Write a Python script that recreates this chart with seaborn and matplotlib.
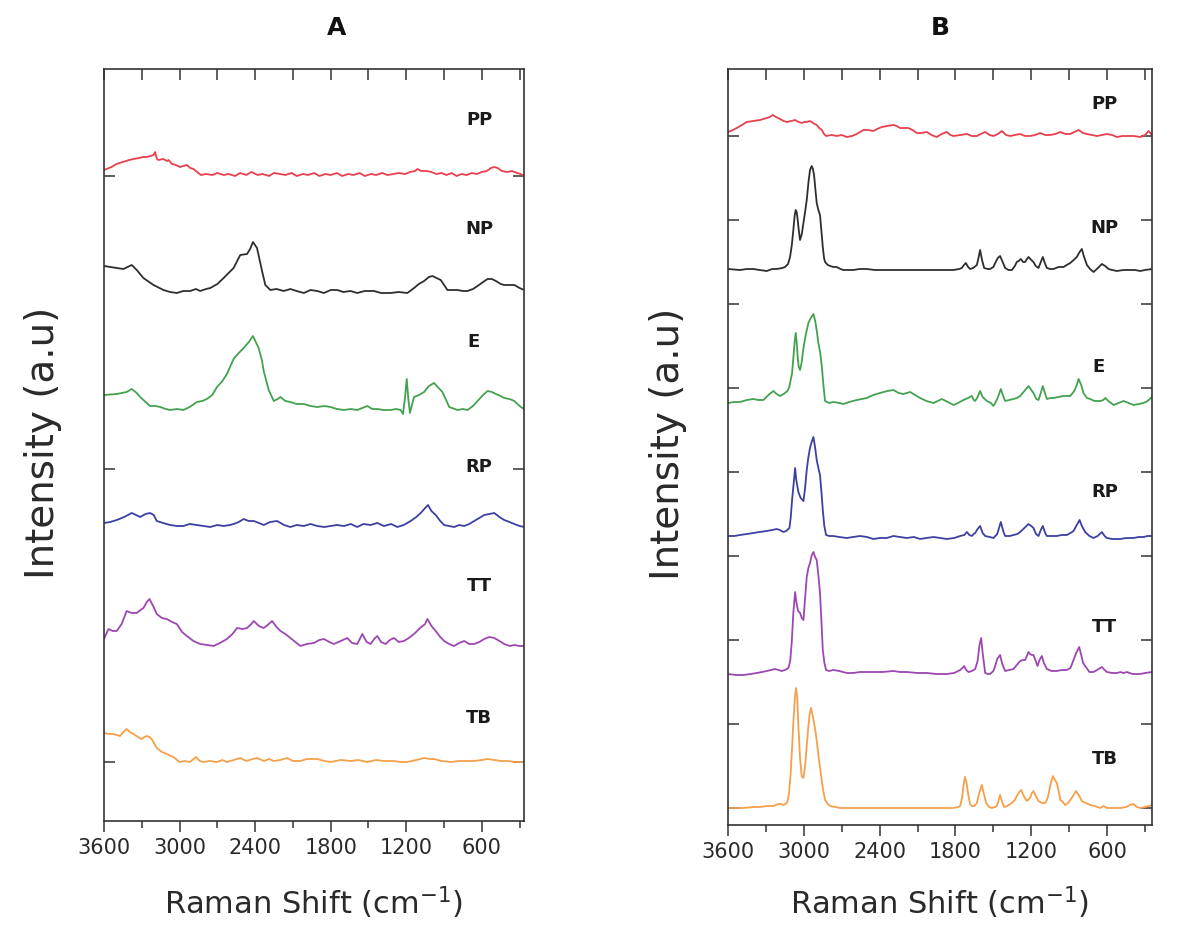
import matplotlib
matplotlib.use("Agg")
import matplotlib.pyplot as plt
import seaborn as sns
import pandas as pd
from matplotlib.ticker import MultipleLocator

sns.set_style("ticks")
plt.rcParams['font.family'] = ['DejaVu Sans']

samples = ['PP', 'NP', 'E', 'RP', 'TT', 'TB']
colors = ['#e8404c', '#2e2e2e', '#43a24f', '#3d40a2', '#9d47b2', '#f5a04b']

# ---- panel A spectra: (Raman shift cm-1, intensity a.u.) ----
pp_a = [(3600, 6), (3540, 9), (3500, 12), (3450, 14), (3400, 16), (3367, 17), (3320, 18), (3290, 19), (3260, 19),
        (3230, 20), (3207, 21), (3194, 24), (3180, 17), (3168, 16), (3130, 17), (3100, 15), (3088, 16), (3060, 12),
        (3030, 11), (2995, 9), (2970, 10), (2942, 11), (2915, 8), (2889, 7), (2860, 4), (2830, 1), (2790, 2),
        (2740, 1), (2700, 3), (2650, 1), (2610, 2), (2560, 0), (2520, 3), (2470, 1), (2430, 4), (2380, 1), (2340, 2),
        (2290, 0), (2250, 3), (2200, 2), (2160, 1), (2110, 3), (2070, 0), (2020, 2), (1980, 1), (1930, 3), (1890, 0),
        (1840, 2), (1800, 1), (1750, 3), (1710, 0), (1660, 2), (1620, 1), (1570, 3), (1530, 0), (1480, 2), (1440, 1),
        (1390, 3), (1350, 1), (1300, 2), (1260, 3), (1210, 2), (1170, 4), (1130, 5), (1111, 7), (1080, 5), (1040, 5),
        (1000, 4), (960, 2), (920, 3), (880, 1), (840, 3), (800, 0), (760, 2), (720, 1), (680, 3), (640, 2), (600, 4),
        (560, 5), (527, 8), (500, 9), (475, 8), (440, 5), (400, 4), (360, 5), (320, 3), (290, 2), (265, 0)]
np_a = [(3600, 27), (3499, 25), (3446, 24), (3380, 28), (3340, 23), (3287, 15), (3207, 8), (3128, 3), (3075, 1),
        (3022, 0), (2970, 2), (2916, 2), (2870, 4), (2836, 2), (2790, 4), (2756, 5), (2700, 9), (2650, 15), (2571, 25),
        (2518, 38), (2464, 39), (2440, 44), (2417, 51), (2385, 45), (2345, 22), (2319, 8), (2279, 3), (2230, 4),
        (2173, 2), (2120, 4), (2070, 2), (2013, 0), (1960, 3), (1907, 2), (1854, 0), (1800, 3), (1748, 3), (1700, 1),
        (1642, 2), (1589, 0), (1530, 2), (1456, 2), (1400, 0), (1324, 0), (1260, 1), (1191, 0), (1138, 5), (1100, 9),
        (1058, 12), (1020, 16), (992, 17), (960, 15), (926, 13), (873, 3), (830, 3), (793, 3), (750, 2), (714, 2),
        (670, 4), (634, 7), (590, 11), (554, 14), (520, 14), (488, 12), (450, 9), (422, 8), (380, 8), (342, 8),
        (300, 5), (265, 3)]
e_a = [(3600, 15), (3499, 16), (3420, 18), (3380, 21), (3340, 17), (3313, 13), (3270, 8), (3234, 4), (3190, 4),
       (3154, 3), (3110, 1), (3075, 0), (3020, 1), (2969, 0), (2920, 3), (2862, 8), (2820, 9), (2783, 11), (2740, 15),
       (2703, 23), (2660, 29), (2624, 36), (2571, 51), (2530, 57), (2491, 62), (2450, 68), (2417, 74), (2395, 68),
       (2372, 62), (2345, 49), (2332, 39), (2292, 20), (2252, 9), (2220, 11), (2199, 13), (2160, 9), (2120, 8),
       (2070, 6), (2013, 6), (1960, 4), (1907, 3), (1850, 4), (1801, 3), (1750, 1), (1695, 0), (1640, 1), (1589, 0),
       (1509, 4), (1470, 1), (1430, 1), (1380, 0), (1324, 0), (1280, 1), (1244, 0), (1226, -4), (1210, 12),
       (1196, 31), (1183, 10), (1170, -3), (1155, 5), (1138, 13), (1100, 15), (1058, 18), (1020, 24), (979, 27),
       (950, 23), (913, 18), (880, 9), (859, 3), (793, 0), (750, 1), (714, 0), (670, 4), (634, 9), (590, 15),
       (554, 19), (520, 18), (488, 16), (450, 14), (422, 12), (380, 11), (342, 9), (300, 4), (265, 1)]
rp_a = [(3600, 4), (3550, 5), (3499, 7), (3440, 10), (3380, 14), (3345, 12), (3313, 10), (3270, 13), (3234, 14),
        (3205, 12), (3181, 6), (3130, 4), (3075, 2), (3020, 1), (2969, 1), (2920, 3), (2862, 2), (2810, 1), (2756, 0),
        (2700, 2), (2650, 1), (2600, 2), (2571, 3), (2530, 5), (2491, 8), (2450, 6), (2411, 6), (2370, 4), (2332, 2),
        (2280, 5), (2226, 6), (2170, 2), (2120, 0), (2070, 2), (2013, 1), (1960, 3), (1907, 1), (1850, 0), (1801, 1),
        (1750, 2), (1695, 1), (1640, 3), (1589, 0), (1540, 3), (1483, 2), (1430, 4), (1377, 1), (1320, 3), (1271, 0),
        (1220, 2), (1165, 6), (1120, 10), (1085, 14), (1050, 19), (1027, 22), (1000, 16), (966, 12), (930, 6),
        (899, 2), (860, 1), (820, 0), (780, 2), (740, 1), (700, 3), (660, 6), (620, 9), (581, 12), (540, 13),
        (501, 14), (460, 10), (422, 7), (380, 5), (342, 3), (300, 1), (265, 0)]
tt_a = [(3600, 7), (3565, 17), (3530, 15), (3499, 15), (3460, 22), (3420, 35), (3380, 33), (3340, 33), (3310, 36),
        (3287, 38), (3260, 44), (3239, 47), (3210, 40), (3181, 32), (3140, 28), (3101, 27), (3060, 24), (3022, 22),
        (2980, 14), (2942, 10), (2890, 5), (2836, 2), (2780, 1), (2730, 0), (2680, 3), (2624, 7), (2580, 12),
        (2544, 18), (2500, 17), (2464, 18), (2430, 22), (2411, 25), (2370, 20), (2332, 18), (2300, 21), (2266, 25),
        (2230, 19), (2199, 15), (2160, 12), (2120, 8), (2080, 4), (2040, 0), (1990, 2), (1934, 3), (1890, 6),
        (1854, 7), (1810, 4), (1775, 2), (1720, 5), (1669, 8), (1630, 3), (1589, 2), (1549, 12), (1515, 4),
        (1483, 2), (1455, 7), (1430, 10), (1400, 4), (1364, 2), (1330, 6), (1297, 8), (1260, 4), (1218, 5),
        (1180, 8), (1138, 12), (1090, 18), (1050, 22), (1032, 27), (1000, 20), (966, 15), (930, 9), (899, 5),
        (860, 2), (820, 0), (780, 3), (740, 5), (700, 2), (660, 2), (620, 4), (581, 7), (540, 9), (501, 8),
        (460, 5), (422, 2), (380, 0), (342, 1), (300, 0), (265, 0)]
tb_a = [(3600, 29), (3560, 28), (3526, 28), (3500, 27), (3473, 26), (3445, 30), (3420, 33), (3395, 30), (3366, 28),
        (3330, 25), (3300, 23), (3280, 25), (3260, 26), (3240, 25), (3221, 23), (3200, 18), (3181, 14), (3140, 10),
        (3101, 8), (3070, 6), (3048, 5), (3020, 2), (3000, 0), (2960, 1), (2916, 0), (2890, 3), (2868, 5), (2840, 1),
        (2810, 0), (2760, 1), (2703, 0), (2660, 2), (2624, 0), (2570, 2), (2518, 4), (2470, 1), (2420, 3), (2385, 4),
        (2330, 1), (2290, 3), (2252, 1), (2200, 2), (2146, 4), (2100, 1), (2040, 1), (1990, 3), (1907, 3), (1850, 1),
        (1801, 0), (1720, 2), (1642, 1), (1580, 2), (1509, 0), (1440, 2), (1377, 1), (1300, 1), (1250, 0), (1191, 0),
        (1120, 2), (1058, 4), (1010, 3), (979, 3), (920, 1), (846, 0), (780, 1), (720, 1), (660, 1), (600, 2),
        (554, 3), (500, 2), (448, 1), (400, 1), (330, 0), (265, 0)]

# ---- panel B spectra ----
pp_b = [(3600, 4), (3560, 6), (3531, 8), (3490, 11), (3452, 14), (3400, 15), (3347, 16), (3320, 17), (3294, 18),
        (3270, 19), (3246, 21), (3220, 19), (3188, 17), (3160, 15), (3135, 14), (3100, 15), (3069, 16), (3040, 14),
        (3017, 13), (2995, 14), (2977, 14), (2955, 15), (2937, 14), (2915, 12), (2898, 11), (2878, 8), (2858, 6),
        (2840, 2), (2824, 0), (2780, 1), (2740, 0), (2700, 1), (2660, -1), (2620, 0), (2581, 2), (2555, 4),
        (2528, 6), (2490, 6), (2449, 5), (2420, 7), (2383, 9), (2340, 10), (2291, 11), (2265, 10), (2238, 8),
        (2200, 8), (2172, 8), (2140, 6), (2106, 3), (2070, 3), (2027, 4), (1990, 1), (1948, -1), (1910, 2),
        (1869, 4), (1840, 1), (1816, 0), (1760, 1), (1710, 2), (1670, 0), (1631, 0), (1600, 2), (1565, 4),
        (1530, 1), (1499, 0), (1465, 2), (1433, 5), (1400, 1), (1367, 0), (1330, 1), (1288, 2), (1250, 0),
        (1209, 0), (1170, 1), (1130, 3), (1090, 1), (1051, 1), (1010, 2), (971, 4), (930, 2), (892, 2), (860, 4),
        (826, 6), (790, 3), (760, 2), (720, 1), (681, 0), (640, 1), (602, 2), (560, 1), (523, -1), (480, 0),
        (444, 0), (390, 0), (338, -1), (300, 1), (272, 5), (245, 1)]
np_b = [(3600, 1), (3505, 0), (3450, 1), (3399, 1), (3350, 0), (3294, -1), (3250, 1), (3215, 1), (3170, 2),
        (3149, 3), (3125, 6), (3109, 13), (3095, 25), (3083, 40), (3072, 55), (3064, 60), (3057, 58), (3051, 53),
        (3040, 40), (3030, 30), (3016, 36), (3003, 47), (2990, 58), (2977, 70), (2963, 88), (2951, 100), (2938, 104),
        (2928, 101), (2919, 95), (2908, 80), (2898, 67), (2885, 60), (2872, 55), (2860, 38), (2850, 23), (2840, 12),
        (2832, 8), (2810, 5), (2792, 4), (2765, 3), (2740, 3), (2710, 1), (2687, 0), (2650, 0), (2608, 0),
        (2560, 1), (2502, 1), (2440, 0), (2380, 0), (2280, 0), (2185, 0), (2100, 0), (1974, 0), (1900, 0),
        (1816, 0), (1770, 1), (1750, 2), (1733, 5), (1718, 7), (1700, 3), (1684, 1), (1660, 2), (1631, 5),
        (1618, 12), (1605, 20), (1590, 10), (1573, 2), (1545, 1), (1526, 1), (1500, 3), (1486, 7), (1465, 12),
        (1447, 14), (1430, 9), (1407, 2), (1380, 0), (1354, 0), (1330, 4), (1315, 8), (1300, 9), (1283, 11),
        (1265, 8), (1249, 8), (1235, 11), (1222, 13), (1200, 10), (1183, 8), (1165, 4), (1143, 2), (1125, 8),
        (1109, 13), (1093, 7), (1077, 2), (1050, 1), (1024, 1), (985, 3), (945, 3), (920, 5), (892, 7), (865, 10),
        (840, 13), (818, 18), (800, 21), (785, 14), (760, 5), (735, 1), (708, -2), (690, 0), (665, 3), (642, 6),
        (615, 4), (589, 1), (560, 0), (523, -1), (470, 0), (417, 0), (380, 0), (338, -1), (300, 0), (245, 1)]
e_b = [(3600, 0), (3550, 1), (3505, 1), (3450, 3), (3399, 4), (3360, 3), (3320, 3), (3280, 8), (3241, 12),
       (3215, 9), (3188, 7), (3160, 9), (3130, 12), (3115, 16), (3104, 23), (3093, 30), (3083, 45), (3072, 62),
       (3064, 70), (3056, 60), (3048, 45), (3040, 36), (3030, 33), (3018, 40), (3003, 55), (2985, 68), (2964, 80),
       (2945, 85), (2924, 89), (2910, 82), (2895, 70), (2885, 60), (2870, 50), (2858, 37), (2845, 18), (2832, 2),
       (2800, 0), (2766, 1), (2720, 0), (2687, -1), (2640, 1), (2581, 3), (2540, 4), (2502, 5), (2450, 8),
       (2397, 10), (2340, 12), (2291, 13), (2250, 10), (2212, 9), (2185, 10), (2159, 11), (2120, 8), (2080, 5),
       (2030, 2), (1974, 0), (1940, 2), (1908, 4), (1860, 1), (1816, -2), (1780, 0), (1737, 3), (1700, 5),
       (1671, 7), (1655, 3), (1644, 2), (1625, 6), (1605, 12), (1585, 6), (1552, 2), (1520, 0), (1499, -3),
       (1470, 4), (1441, 14), (1420, 6), (1407, 2), (1375, 3), (1341, 4), (1315, 5), (1288, 7), (1255, 12),
       (1222, 17), (1200, 13), (1183, 10), (1160, 4), (1143, 3), (1125, 10), (1109, 17), (1090, 9), (1077, 4),
       (1050, 5), (1024, 5), (985, 6), (945, 7), (892, 7), (860, 12), (840, 18), (826, 24), (805, 18), (787, 10),
       (760, 5), (734, 4), (700, 2), (655, 2), (630, 3), (615, 5), (590, 2), (549, -2), (510, 0), (470, 2),
       (430, 0), (391, -2), (350, -1), (312, 0), (280, 2), (245, 6)]
rp_b = [(3600, 2), (3550, 2), (3505, 3), (3450, 4), (3399, 5), (3350, 6), (3294, 7), (3250, 8), (3215, 9),
        (3190, 8), (3162, 6), (3140, 7), (3114, 10), (3104, 20), (3093, 38), (3080, 55), (3069, 70), (3060, 58),
        (3043, 46), (3025, 40), (3003, 37), (2990, 50), (2977, 68), (2965, 80), (2951, 90), (2938, 96), (2924, 101),
        (2910, 90), (2898, 78), (2885, 70), (2872, 63), (2860, 45), (2850, 28), (2838, 12), (2824, 3), (2800, 2),
        (2766, 2), (2720, 1), (2660, 0), (2610, 1), (2555, 2), (2500, 1), (2449, -1), (2400, 0), (2344, 0),
        (2291, 2), (2240, 1), (2185, 0), (2130, 1), (2080, -1), (2030, 0), (1974, 1), (1920, 0), (1869, -1),
        (1810, 0), (1763, 2), (1730, 3), (1710, 6), (1690, 3), (1671, 2), (1655, 4), (1644, 5), (1625, 9),
        (1605, 12), (1585, 5), (1565, 2), (1530, 1), (1499, 0), (1470, 4), (1441, 16), (1420, 6), (1407, 2),
        (1370, 2), (1341, 3), (1310, 4), (1288, 6), (1255, 10), (1222, 14), (1200, 12), (1183, 10), (1163, 4),
        (1143, 2), (1125, 8), (1109, 12), (1090, 5), (1077, 2), (1040, 2), (998, 2), (960, 3), (919, 3), (890, 5),
        (866, 7), (840, 13), (818, 18), (800, 12), (774, 6), (740, 2), (708, 0), (675, 2), (642, 6), (620, 2),
        (602, 0), (560, -1), (496, -1), (450, 0), (391, 0), (350, 1), (312, 1), (280, 2), (245, 2)]
tt_b = [(3600, -1), (3540, -2), (3478, -2), (3420, -1), (3373, 0), (3330, 1), (3294, 2), (3260, 3), (3228, 4),
        (3200, 3), (3175, 2), (3150, 3), (3122, 5), (3108, 12), (3096, 30), (3083, 60), (3069, 81), (3058, 70),
        (3045, 62), (3030, 60), (3016, 55), (3003, 53), (2990, 75), (2977, 96), (2964, 105), (2951, 110),
        (2937, 118), (2924, 121), (2911, 116), (2898, 113), (2885, 98), (2872, 80), (2860, 50), (2850, 23),
        (2837, 10), (2824, 3), (2800, 2), (2766, 3), (2720, 2), (2660, 0), (2610, 0), (2555, 1), (2500, 1),
        (2449, 1), (2380, 1), (2291, 2), (2240, 1), (2185, 1), (2100, 0), (2027, 0), (1950, -1), (1869, -1),
        (1810, 0), (1763, 3), (1745, 5), (1731, 7), (1715, 3), (1697, 1), (1670, 2), (1644, 4), (1625, 12),
        (1610, 28), (1597, 35), (1585, 20), (1565, 0), (1545, -1), (1526, -1), (1500, 2), (1486, 7), (1470, 14),
        (1447, 18), (1430, 9), (1407, 2), (1375, 3), (1341, 4), (1315, 8), (1288, 12), (1265, 13), (1249, 13),
        (1235, 17), (1222, 21), (1210, 19), (1195, 18), (1183, 18), (1165, 12), (1151, 7), (1135, 13), (1117, 17),
        (1100, 10), (1077, 4), (1040, 2), (998, 2), (960, 3), (919, 3), (890, 5), (866, 13), (845, 20), (821, 26),
        (805, 18), (790, 10), (774, 7), (740, 1), (708, 1), (680, 3), (642, 6), (620, 3), (602, 1), (560, 0),
        (520, 0), (496, 1), (470, 0), (444, 1), (400, -1), (338, -1), (300, 0), (245, 1)]
tb_b = [(3600, 0), (3540, 0), (3478, 0), (3400, 1), (3347, 1), (3290, 2), (3241, 2), (3201, 4), (3180, 4),
        (3162, 3), (3145, 4), (3130, 6), (3117, 15), (3104, 35), (3093, 60), (3083, 85), (3072, 108), (3062, 120),
        (3052, 110), (3043, 82), (3030, 50), (3017, 32), (3003, 30), (2990, 42), (2977, 62), (2964, 82), (2953, 95),
        (2943, 100), (2931, 93), (2919, 85), (2906, 75), (2893, 62), (2880, 48), (2866, 35), (2850, 20), (2832, 8),
        (2810, 4), (2792, 2), (2750, 1), (2713, 0), (2650, 0), (2600, 0), (2502, 0), (2400, 0), (2300, 0),
        (2238, 0), (2150, 0), (2050, 0), (1974, 0), (1900, 0), (1816, 0), (1780, 1), (1763, 2), (1748, 10),
        (1737, 22), (1725, 31), (1712, 25), (1697, 12), (1685, 4), (1671, 2), (1650, 2), (1631, 5), (1612, 15),
        (1592, 23), (1575, 14), (1557, 5), (1535, 1), (1513, 0), (1490, 1), (1473, 2), (1460, 7), (1447, 13),
        (1430, 6), (1415, 1), (1390, 2), (1354, 5), (1330, 8), (1315, 12), (1295, 16), (1280, 18), (1260, 12),
        (1235, 7), (1210, 10), (1195, 15), (1183, 17), (1165, 12), (1143, 7), (1115, 5), (1090, 5), (1070, 10),
        (1051, 22), (1030, 32), (1012, 28), (998, 25), (985, 18), (971, 8), (950, 6), (932, 3), (910, 5), (892, 8),
        (870, 12), (847, 17), (825, 13), (800, 7), (770, 5), (734, 3), (700, 2), (655, 0), (628, 2), (600, 0),
        (576, 0), (530, 0), (496, 0), (450, 1), (420, 3), (391, 4), (365, 1), (338, 0), (300, 1), (270, 2),
        (245, 3)]

spectra_a = [pp_a, np_a, e_a, rp_a, tt_a, tb_a]
spectra_b = [pp_b, np_b, e_b, rp_b, tt_b, tb_b]
offsets_a = [586, 469, 352, 235, 116, 0]
offsets_b = [672, 538, 405, 270, 135, 0]
label_y_a = [642, 533, 420, 295, 176, 44]
label_y_b = [704, 580, 441, 316, 181, 49]


def make_frame(spectra, offsets):
    rows = []
    for name, spec, off in zip(samples, spectra, offsets):
        for wn, val in spec:
            rows.append({'sample': name, 'wn': wn, 'y': val + off})
    return pd.DataFrame(rows)


fig = plt.figure(figsize=(11.77, 9.3), dpi=100)
ax_a = fig.add_axes([104 / 1177, 1 - 821 / 930, 420 / 1177, 752 / 930])
ax_b = fig.add_axes([728 / 1177, 1 - 825 / 930, 424 / 1177, 756 / 930])

panels = [(ax_a, spectra_a, offsets_a, label_y_a, (3600, 265), (-59, 693), 293, 'A', 337),
          (ax_b, spectra_b, offsets_b, label_y_b, (3600, 245), (-17, 739), 84, 'B', 940)]

for ax, spectra, offsets, label_y, xl, yl, ystep, title, title_x in panels:
    df = make_frame(spectra, offsets)
    sns.lineplot(data=df, x='wn', y='y', hue='sample', hue_order=samples, palette=colors,
                 estimator=None, legend=False, lw=1.3, ax=ax)
    ax.set_xlim(*xl)
    ax.set_ylim(*yl)
    ax.xaxis.set_major_locator(MultipleLocator(600))
    ax.xaxis.set_minor_locator(MultipleLocator(300))
    ax.yaxis.set_major_locator(MultipleLocator(ystep))
    ax.set_yticklabels([])
    ax.set_xlabel('')
    ax.set_ylabel('')
    ax.tick_params(axis='x', which='major', direction='out', length=8, width=1.1, labelsize=15,
                   color='#333333', labelcolor='#2a2a2a', pad=4, top=False)
    ax.tick_params(axis='x', which='minor', direction='out', length=5, width=1.1, color='#333333', top=False)
    ax.tick_params(axis='y', which='major', direction='in', length=8, width=1.1, color='#333333',
                   left=True, right=True)
    for sp in ax.spines.values():
        sp.set_color('#333333')
        sp.set_linewidth(1.2)
        sp.set_visible(True)
    # inward ticks along the top edge
    top = ax.secondary_xaxis('top')
    top.xaxis.set_major_locator(MultipleLocator(300))
    top.tick_params(direction='in', length=8, width=1.1, color='#333333', labeltop=False)
    top.spines['top'].set_visible(False)
    for name, ly in zip(samples, label_y):
        ax.text(620 if name != 'E' else 665, ly, name, ha='center', va='center',
                fontsize=13, fontweight='bold', color='#1a1a1a')
    fig.text(title_x / 1177, 1 - 28 / 930, title, ha='center', va='center',
             fontsize=18, fontweight='bold', color='#111111')

fig.text(43 / 1177, 1 - 443 / 930, 'Intensity (a.u)', rotation=90, ha='center', va='center',
         fontsize=28, color='#2a2a2a')
fig.text(668 / 1177, 1 - 444 / 930, 'Intensity (a.u)', rotation=90, ha='center', va='center',
         fontsize=28, color='#2a2a2a')
fig.text(314 / 1177, 1 - 903 / 930, 'Raman Shift (cm$^{-1}$)', ha='center', va='center',
         fontsize=22, color='#2a2a2a')
fig.text(940 / 1177, 1 - 903 / 930, 'Raman Shift (cm$^{-1}$)', ha='center', va='center',
         fontsize=22, color='#2a2a2a')

fig.savefig('out.png', dpi=100, facecolor='white')
